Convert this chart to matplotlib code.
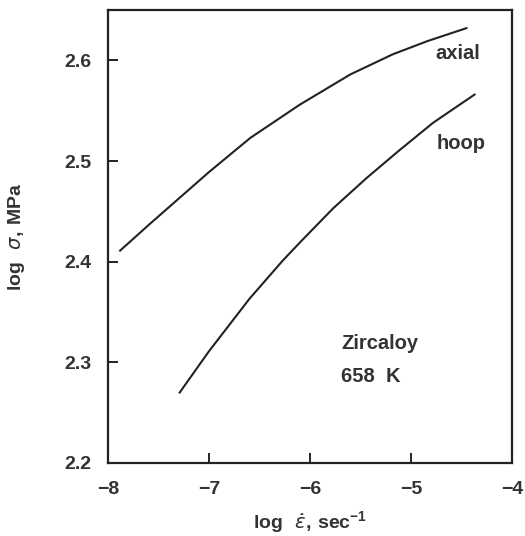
import matplotlib.pyplot as plt

# curves (log strain rate, log stress)
axial_x = [-7.88, -7.58, -7.0, -6.59, -6.10, -5.60, -5.18, -4.84, -4.45]
axial_y = [2.411, 2.438, 2.489, 2.523, 2.556, 2.586, 2.606, 2.619, 2.632]
hoop_x = [-7.29, -7.0, -6.6, -6.27, -6.10, -5.77, -5.44, -5.11, -4.78, -4.37]
hoop_y = [2.270, 2.311, 2.363, 2.401, 2.419, 2.453, 2.483, 2.511, 2.538, 2.566]

xticks = [-8, -7, -6, -5, -4]
yticks = [2.2, 2.3, 2.4, 2.5, 2.6]

plt.rcParams['font.family'] = ['Liberation Sans', 'DejaVu Sans']
plt.rcParams['font.weight'] = 'bold'
# bold words, thin italic greek in the axis labels
plt.rcParams['mathtext.fontset'] = 'custom'
plt.rcParams['mathtext.rm'] = 'Liberation Sans:bold'
plt.rcParams['mathtext.bf'] = 'Liberation Sans:bold'
plt.rcParams['mathtext.it'] = 'DejaVu Sans:italic:normal'

fig = plt.figure(figsize=(5.25, 5.36), dpi=100)
ax = fig.add_axes([0.2057, 0.1362, 0.7693, 0.8451])

ax.plot(axial_x, axial_y, color='#222222', lw=1.5)
ax.plot(hoop_x, hoop_y, color='#222222', lw=1.5)

ax.set_xlim(-8, -4)
ax.set_ylim(2.2, 2.65)
ax.set_xticks(xticks)
ax.set_yticks(yticks)
ax.set_xticklabels(['\u2212%d' % abs(v) for v in xticks])
ax.set_yticklabels(['%.1f' % v for v in yticks])
ax.tick_params(direction='in', length=7, width=1.4, labelsize=14,
               color='#222222', labelcolor='#333333')
ax.tick_params(axis='x', pad=13)
ax.tick_params(axis='y', pad=12)
for s in ax.spines.values():
    s.set_linewidth(1.6)
    s.set_color('#222222')

txt = dict(fontsize=14.5, color='#333333', va='center', fontweight='bold')
ax.text(-4.76, 2.607, 'axial', **txt)
ax.text(-4.75, 2.517, 'hoop', **txt)
ax.text(-5.69, 2.319, 'Zircaloy', **txt)
ax.text(-5.69, 2.286, '658  K', **txt)

ax.set_xlabel(r'$\mathrm{log}\ \ \dot{\epsilon}\mathrm{,}\ \mathrm{sec}^{\mathrm{-1}}$', fontsize=14,
              color='#333333', fontweight='normal', labelpad=8)
ax.set_ylabel(r'$\mathrm{log}\ \ \sigma\mathrm{,}\ \mathrm{MPa}$', fontsize=14, color='#333333',
              fontweight='normal')
ax.yaxis.set_label_coords(-0.20, 0.5)

fig.savefig('out.png', dpi=100, facecolor='white')
